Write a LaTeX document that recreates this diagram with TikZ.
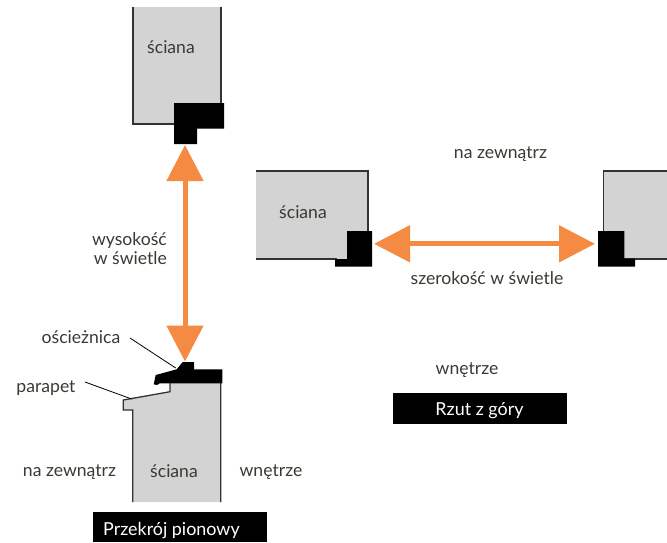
\documentclass[tikz,border=0pt]{standalone}
\usepackage{fontspec}
\setmainfont{Lato}
\usetikzlibrary{arrows.meta}
\definecolor{wallgray}{HTML}{D3D3D3}
\definecolor{wallline}{HTML}{333333}
\definecolor{inkbrown}{HTML}{3D3832}
\definecolor{arroworange}{HTML}{F58A42}
\tikzset{
  wall/.style={draw=wallline,line width=1.3pt,line join=miter},
  frame/.style={fill=black,draw=none},
  label/.style={text=inkbrown,font=\fontsize{17.6}{19}\selectfont,anchor=base,inner sep=0pt},
  leader/.style={draw=black,line width=0.8pt},
  measure/.style={draw=arroworange,line width=5pt,{Triangle[length=36pt,width=36pt,fill=arroworange]}-{Triangle[length=36pt,width=36pt,fill=arroworange]}},
  bannerbox/.style={fill=black,draw=none},
  bannertext/.style={text=white,font=\fontsize{17.9}{19}\selectfont,anchor=base,inner sep=0pt}
}
\begin{document}
\begin{tikzpicture}[x=1pt,y=-1pt]
\useasboundingbox (0,0) rectangle (667,542);
% top wall
\fill[wallgray] (133,7) rectangle (221,124);
\draw[wall] (133,7) -- (133,124) -- (176,124);
\draw[wall] (221,7) -- (221,105);
\fill[frame] (174,103) -- (224,103) -- (224,128.6) -- (197,128.6) -- (197,144) -- (174,144) -- cycle;
% left wall plan
\fill[wallgray] (256,171) rectangle (368,259);
\draw[wall] (256,171) -- (368,171) -- (368,233);
\draw[wall] (256,259) -- (337,259);
\fill[frame] (347,231) -- (372,231) -- (372,266.7) -- (335,266.7) -- (335,259) -- (347,259) -- cycle;
% right wall plan
\fill[wallgray] (603.5,171) rectangle (667,259);
\draw[wall] (667,171) -- (603.5,171) -- (603.5,233);
\draw[wall] (622,259) -- (667,259);
\fill[frame] (598,231) -- (624.3,231) -- (624.3,258.7) -- (635,258.7) -- (635,266.7) -- (598,266.7) -- cycle;
% section wall
\filldraw[wall,fill=wallgray] (132.7,502) -- (132.7,410) -- (123.3,410) -- (123.3,400) -- (170,391.7) -- (170,380) -- (220.7,380) -- (220.7,502);
\fill[frame] (153.7,384.3) -- (155.7,375) -- (176.7,369.3) -- (182.7,362) -- (194,362) -- (194,369.3) -- (222.3,369.3) -- (222.3,383.3) -- (159.7,383.3) -- (157,385) -- cycle;
% arrows
\coordinate (vtop) at (185,145);
\coordinate (vbot) at (185,361.5);
\coordinate (hleft) at (374,243.8);
\coordinate (hright) at (595,243.8);
\draw[measure] (vtop) -- (vbot);
\draw[measure] (hleft) -- (hright);
% labels
\node[label] (s1) at (171,53) {ściana};
\node[label] (s2) at (303,218) {ściana};
\node[label] (s3) at (174,477) {ściana};
\node[label,anchor=base east] (wys1) at (167,245) {wysokość};
\node[label,anchor=base east] (wys2) at (167,264) {w świetle};
\node[label] (osc) at (81,343) {ościeżnica};
\node[label] (par) at (46,392) {parapet};
\node[label] (nz1) at (69.5,476) {na zewnątrz};
\node[label] (wn1) at (271,476) {wnętrze};
\node[label] (nz2) at (500.5,158) {na zewnątrz};
\node[label] (wn2) at (467,374) {wnętrze};
\node[label] (sz) at (487,284) {szerokość w świetle};
% leaders
\coordinate (oscend) at (175.7,368);
\coordinate (parend) at (131.7,399);
\draw[leader] (130,338) -- (oscend);
\draw[leader] (85,382) -- (parend);
% banners
\fill[bannerbox] (93,512) rectangle (267,542);
\fill[bannerbox] (393,393) rectangle (567,424);
\node[bannertext,anchor=base west] (b1) at (103,535) {Przekrój pionowy};
\node[bannertext] (b2) at (479.5,415) {Rzut z góry};
\end{tikzpicture}
\end{document}
